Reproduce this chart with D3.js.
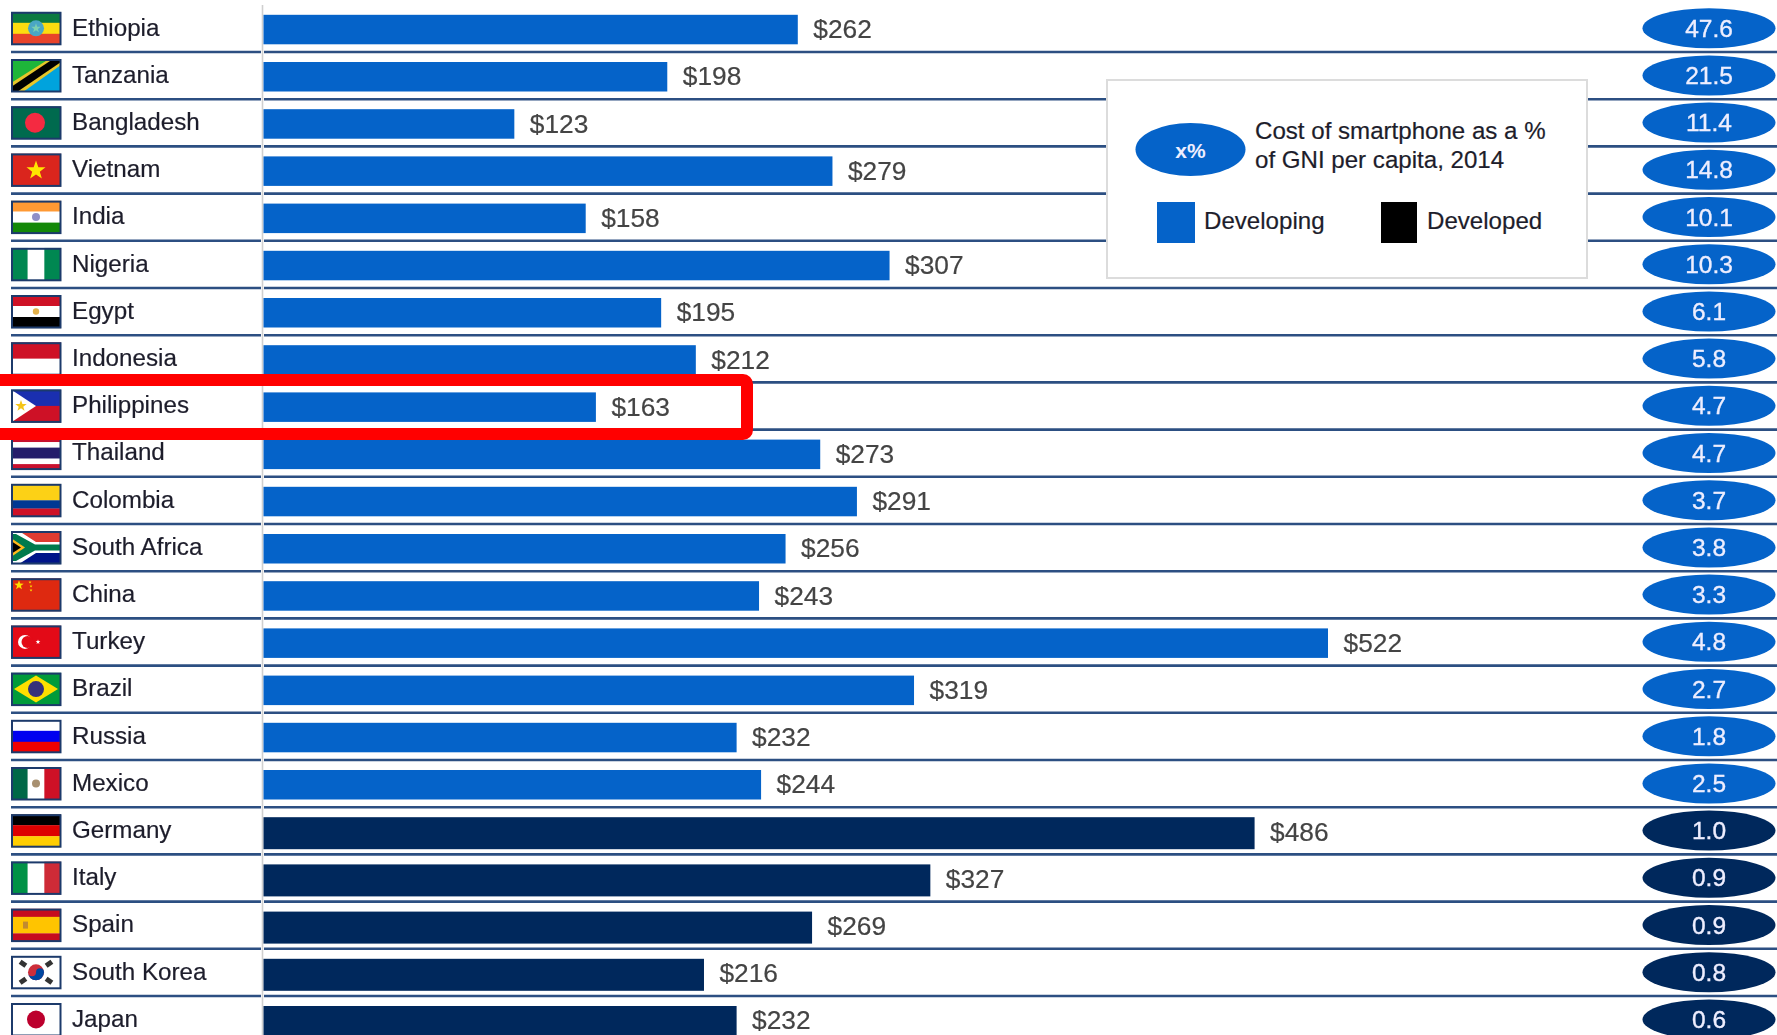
<!DOCTYPE html>
<html><head><meta charset="utf-8">
<script src="https://cdnjs.cloudflare.com/ajax/libs/d3/7.8.5/d3.min.js"></script>
<style>
html,body{margin:0;padding:0;background:#fff;overflow:hidden}
svg{display:block;filter:blur(0.55px)}
text{font-family:"Liberation Sans",Arial,sans-serif}
</style></head><body>
<script>
const countries=["Ethiopia","Tanzania","Bangladesh","Vietnam","India","Nigeria","Egypt","Indonesia","Philippines","Thailand","Colombia","South Africa","China","Turkey","Brazil","Russia","Mexico","Germany","Italy","Spain","South Korea","Japan"];
const prices=[262,198,123,279,158,307,195,212,163,273,291,256,243,522,319,232,244,486,327,269,216,232];
const gniShare=["47.6","21.5","11.4","14.8","10.1","10.3","6.1","5.8","4.7","4.7","3.7","3.8","3.3","4.8","2.7","1.8","2.5","1.0","0.9","0.9","0.8","0.6"];
const groups=["Developing","Developing","Developing","Developing","Developing","Developing","Developing","Developing","Developing","Developing","Developing","Developing","Developing","Developing","Developing","Developing","Developing","Developed","Developed","Developed","Developed","Developed"];
const highlighted="Philippines";
const legendTitle=["Cost of smartphone as a %","of GNI per capita, 2014"];

const W=1777,H=1035;
const svg=d3.select("body").append("svg").attr("width",W).attr("height",H);
const y=d3.scaleBand().domain(countries).range([4.8,4.8+47.2*countries.length]);
const x=d3.scaleLinear().domain([0,522]).range([263.5,1328]);
const color=d3.scaleOrdinal().domain(["Developing","Developed"]).range(["#0563c9","#00285c"]);
const rows=countries.map((c,i)=>({c,price:prices[i],share:gniShare[i],group:groups[i]}));

// row separators
const sepColor="#2c4f82";
const seps=svg.append("g");
countries.slice(0,-1).forEach(c=>{
  const yy=y(c)+y.bandwidth();
  seps.append("line").attr("x1",11).attr("x2",261).attr("y1",yy).attr("y2",yy).attr("stroke",sepColor).attr("stroke-width",2.6);
  seps.append("line").attr("x1",264).attr("x2",W).attr("y1",yy).attr("y2",yy).attr("stroke",sepColor).attr("stroke-width",2.6);
});
svg.append("line").attr("x1",262.5).attr("x2",262.5).attr("y1",5).attr("y2",H).attr("stroke","#cfcfcf").attr("stroke-width",1.6);

// bars
svg.append("g").selectAll("rect").data(rows).join("rect")
  .attr("x",x(0)).attr("y",d=>y(d.c)+10).attr("height",d=>d.group==="Developed"?32:29.5)
  .attr("width",d=>x(d.price)-x(0)).attr("fill",d=>color(d.group));
svg.append("g").selectAll("text").data(rows).join("text")
  .attr("x",d=>x(d.price)+15.5).attr("y",d=>y(d.c)+33.4).attr("font-size",26.3).attr("fill","#444").attr("stroke","#444").attr("stroke-width",.2)
  .text(d=>"$"+d.price);

// country labels
svg.append("g").selectAll("text").data(rows).join("text")
  .attr("x",72).attr("y",d=>y(d.c)+30.8).attr("font-size",24.2).attr("fill","#1d1d2b").attr("stroke","#1d1d2b").attr("stroke-width",.2).text(d=>d.c);

// ovals
const ov=svg.append("g").selectAll("g").data(rows).join("g").attr("transform",d=>`translate(1709,${y(d.c)+23.4})`);
ov.append("ellipse").attr("rx",66.5).attr("ry",20).attr("fill",d=>color(d.group));
ov.append("text").attr("text-anchor","middle").attr("y",8.6).attr("font-size",24.5).attr("fill","#eef").attr("stroke","#eef").attr("stroke-width",.35).text(d=>d.share);

// flags
const star=(s,cx,cy,r,fill)=>{
  const pts=d3.range(10).map(i=>{const a=-Math.PI/2+i*Math.PI/5,q=i%2?r*0.4:r;return [cx+q*Math.cos(a),cy+q*Math.sin(a)].join(",")}).join(" ");
  s.append("polygon").attr("points",pts).attr("fill",fill);
};
const hs=(s,cols,w)=>{w=w||cols.map(()=>1);const t=d3.sum(w);let a=0;cols.forEach((c,i)=>{const h=33*w[i]/t;s.append("rect").attr("y",a).attr("width",50).attr("height",h+.2).attr("fill",c);a+=h;});};
const vs=(s,cols)=>{cols.forEach((c,i)=>s.append("rect").attr("x",i*50/cols.length).attr("width",50/cols.length+.2).attr("height",33).attr("fill",c));};
const circ=(s,cx,cy,r,f)=>s.append("circle").attr("cx",cx).attr("cy",cy).attr("r",r).attr("fill",f);
const poly=(s,p,f)=>s.append("polygon").attr("points",p).attr("fill",f);
const flags={
 "Ethiopia":s=>{hs(s,["#0b7a40","#fcdc10","#e8432a"]);circ(s,25,16.5,8,"#4aa6c4");star(s,25,16.5,5,"#7ccfb0");},
 "Tanzania":s=>{vs(s,["#fff"]);poly(s,"0,0 50,0 0,33","#1eb53a");poly(s,"50,0 50,33 0,33","#00a3dd");poly(s,"0,33 0,24 38,0 50,0 50,6 12,33","#e6c62a");poly(s,"0,33 0,28 42,0 50,0 50,3 6,33","#000");},
 "Bangladesh":s=>{vs(s,["#006a4e"]);circ(s,24,16.5,10,"#f42a41");},
 "Vietnam":s=>{vs(s,["#da251d"]);star(s,25,17,10,"#ffe600");},
 "India":s=>{hs(s,["#ff9933","#fff","#138808"]);circ(s,25,16.5,4,"#8f8fc8");},
 "Nigeria":s=>vs(s,["#008751","#fff","#008751"]),
 "Egypt":s=>{hs(s,["#ce1126","#fff","#000"]);circ(s,25,16.5,3.2,"#e2b04a");},
 "Indonesia":s=>hs(s,["#ce1126","#fff"]),
 "Philippines":s=>{hs(s,["#1a2fb0","#ce1126"]);poly(s,"0,0 25,16.5 0,33","#fff");star(s,10,16.5,6,"#f5c518");},
 "Thailand":s=>hs(s,["#c8102e","#fff","#241d6b","#fff","#c8102e"],[1,1,2,1,1]),
 "Colombia":s=>hs(s,["#fcd116","#003893","#ce1126"],[2,1,1]),
 "South Africa":s=>{hs(s,["#e03c31","#001489"]);poly(s,"0,0 8,0 25,11 50,11 50,22 25,22 8,33 0,33","#fff");poly(s,"0,3 5,3 24,13.5 50,13.5 50,19.5 24,19.5 5,30 0,30","#007a4d");poly(s,"0,7 14,16.5 0,26","#ffb81c");poly(s,"0,10 10,16.5 0,23","#000");},
 "China":s=>{vs(s,["#de2910"]);star(s,8,7,5,"#ffde00");star(s,19,4,1.6,"#ffde00");star(s,20,8,1.6,"#ffde00");star(s,20,12,1.6,"#ffde00");},
 "Turkey":s=>{vs(s,["#e30a17"]);circ(s,14,16.5,7,"#fff");circ(s,16.5,16.5,6,"#e30a17");star(s,27,16.5,2.5,"#fff");},
 "Brazil":s=>{vs(s,["#009b3a"]);poly(s,"25,3 47,16.5 25,30 3,16.5","#fedf00");circ(s,25,16.5,8,"#35307a");},
 "Russia":s=>hs(s,["#fff","#0000f0","#f00000"]),
 "Mexico":s=>{vs(s,["#006847","#fff","#ce1126"]);circ(s,25,16.5,4,"#a89070");},
 "Germany":s=>hs(s,["#000","#dd0000","#ffce00"]),
 "Italy":s=>vs(s,["#009246","#fff","#ce2b37"]),
 "Spain":s=>{hs(s,["#c60b1e","#ffc400","#c60b1e"],[1,2,1]);s.append("rect").attr("x",12).attr("y",13).attr("width",5).attr("height",7).attr("fill","#c08a30");},
 "South Korea":s=>{vs(s,["#fff"]);circ(s,25,16.5,8,"#cd2e3a");s.append("path").attr("d","M17,16.5 A8,8 0 0 0 33,16.5 A4,4 0 0 0 25,16.5 A4,4 0 0 1 17,16.5").attr("fill","#0047a0");
   [[12,8,35],[38,8,-35],[12,25,-35],[38,25,35]].forEach(t=>{s.append("rect").attr("x",-3.5).attr("y",-2.5).attr("width",7).attr("height",5).attr("fill","#333").attr("transform",`translate(${t[0]},${t[1]}) rotate(${t[2]})`);});},
 "Japan":s=>{vs(s,["#fff"]);circ(s,25,16.5,9,"#bc002d");}
};
const defs=svg.append("defs");
defs.append("clipPath").attr("id","fc").append("rect").attr("width",50).attr("height",33.5);
rows.forEach(d=>{
  const g=svg.append("g").attr("transform",`translate(11,${y(d.c)+7})`);
  const inner=g.append("g").attr("clip-path","url(#fc)");
  flags[d.c](inner);
  g.append("rect").attr("x",1).attr("y",1).attr("width",48.5).attr("height",31.5).attr("fill","none").attr("stroke","#1c3a6b").attr("stroke-width",2);
});

// highlight
const hy=y(highlighted);
svg.append("rect").attr("x",-20).attr("y",hy-2.4).attr("width",767).attr("height",54).attr("rx",4)
  .attr("fill","none").attr("stroke","#ff0000").attr("stroke-width",12);

// legend
const lg=svg.append("g");
lg.append("rect").attr("x",1107).attr("y",80).attr("width",480).attr("height",198).attr("fill","#fff").attr("stroke","#dcdcdc").attr("stroke-width",2);
lg.append("ellipse").attr("cx",1190.5).attr("cy",149.5).attr("rx",55).attr("ry",26.5).attr("fill",color("Developing"));
lg.append("text").attr("x",1190.5).attr("y",158).attr("text-anchor","middle").attr("font-size",21).attr("font-weight","bold").attr("fill","#eef").text("x%");
lg.selectAll("text.t").data(legendTitle).join("text").attr("class","t").attr("x",1255).attr("y",(d,i)=>139+i*29).attr("font-size",24.1).attr("fill","#1d1d2b").attr("stroke","#1d1d2b").attr("stroke-width",.2).text(d=>d);
const items=[{k:"Developing",x:1157,w:38,f:color("Developing"),tx:1204},{k:"Developed",x:1381,w:36,f:"#000",tx:1427}];
items.forEach(d=>{
  lg.append("rect").attr("x",d.x).attr("y",202).attr("width",d.w).attr("height",41).attr("fill",d.f);
  lg.append("text").attr("x",d.tx).attr("y",229).attr("font-size",24.1).attr("fill","#1d1d2b").attr("stroke","#1d1d2b").attr("stroke-width",.2).text(d.k);
});
</script></body></html>
